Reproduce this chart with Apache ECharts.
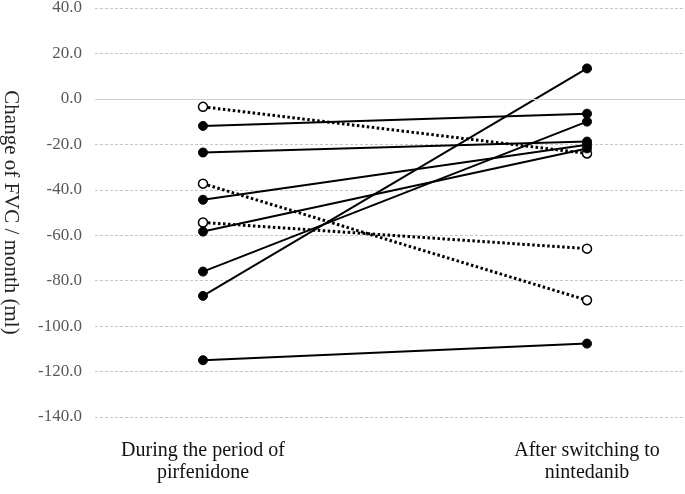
<!DOCTYPE html>
<html>
<head>
<meta charset="utf-8">
<style>
html,body{margin:0;padding:0;background:#fff;}
#chart{width:685px;height:494px;}
</style>
<script src="https://cdn.jsdelivr.net/npm/echarts@6/dist/echarts.min.js"></script>
</head>
<body>
<div id="chart"></div>
<script>
var categories = ['During the period of\npirfenidone', 'After switching to\nnintedanib'];
var pirfenidoneValues = [-3.5, -11.9, -23.6, -37.3, -44.4, -54.4, -58.4, -76.0, -86.7, -115.0];
var nintedanibValues  = [-24.0, -6.5, -18.8, -88.6, -20.2, -65.9, -21.8, -10.0, 13.4, -107.7];
var openGroup = [true, false, false, true, false, true, false, false, false, false];
var yTicks = [40, 20, 0, -20, -40, -60, -80, -100, -120, -140];

var chart = echarts.init(document.getElementById('chart'));
var series = [];
for (var i = 0; i < pirfenidoneValues.length; i++) {
  var open = openGroup[i];
  series.push({
    type: 'line',
    data: [[0, pirfenidoneValues[i]], [1, nintedanibValues[i]]],
    symbol: 'circle',
    symbolSize: 9,
    z: open ? 3 : 4,
    lineStyle: open ? {color: '#000', width: 3, type: [2.5, 2.5]} : {color: '#000', width: 2},
    itemStyle: open ? {color: '#fff', borderColor: '#000', borderWidth: 1.5} : {color: '#000', borderColor: '#000', borderWidth: 1},
    emphasis: {disabled: true},
    animation: false
  });
}
series.push({
  type: 'line',
  data: [],
  markLine: {
    silent: true,
    symbol: 'none',
    label: {show: false},
    lineStyle: {color: '#d0d0d0', type: 'solid', width: 1},
    data: [{yAxis: 0}]
  },
  animation: false
});

chart.setOption({
  animation: false,
  grid: {left: 95, right: 0, top: 8, bottom: 77, containLabel: false, outerBoundsMode: 'none'},
  xAxis: {
    type: 'value',
    min: -0.28125,
    max: 1.2552,
    axisLine: {show: false},
    axisTick: {show: false},
    splitLine: {show: false},
    axisLabel: {
      customValues: [0, 1],
      formatter: function (v) { return categories[Math.round(v)] || ''; },
      fontFamily: 'Liberation Serif',
      fontSize: 20,
      color: '#111',
      lineHeight: 22,
      margin: 23
    }
  },
  yAxis: {
    type: 'value',
    min: -140,
    max: 40,
    interval: 20,
    name: 'Change of FVC / month (ml)',
    nameLocation: 'middle',
    nameGap: 74,
    nameRotate: -90,
    nameTextStyle: {fontFamily: 'Liberation Serif', fontSize: 21, color: '#222'},
    axisLine: {show: false},
    axisTick: {show: false},
    axisLabel: {
      fontFamily: 'Liberation Serif',
      fontSize: 17,
      color: '#595959',
      margin: 13,
      formatter: function (v) { return v.toFixed(1); }
    },
    splitLine: {show: true, lineStyle: {color: '#c6c6c6', type: [3, 2], width: 1}}
  },
  series: series
});
</script>
</body>
</html>
